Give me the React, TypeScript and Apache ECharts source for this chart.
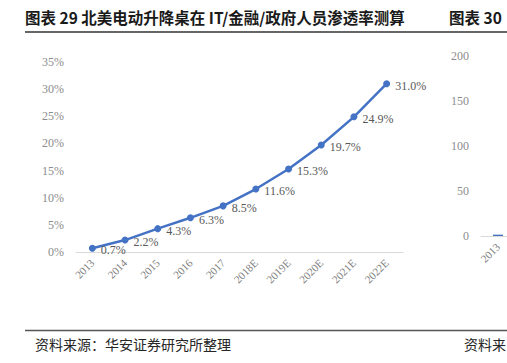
import React, { useEffect, useRef } from "react";
import * as echarts from "echarts";

const categories = ["2013", "2014", "2015", "2016", "2017", "2018E", "2019E", "2020E", "2021E", "2022E"];
const penetration = [0.7, 2.2, 4.3, 6.3, 8.5, 11.6, 15.3, 19.7, 24.9, 31.0];
const chart2Categories = ["2013"];
const chart2Values = [1.5];
const titleLeft = "图表 29 北美电动升降桌在 IT/金融/政府人员渗透率测算";
const titleRight = "图表 30";
const sourceLeft = "资料来源：华安证券研究所整理";
const sourceRight = "资料来";

const SERIF = "'Liberation Serif', 'Times New Roman', serif";
const CJK = "'Noto Sans CJK SC', sans-serif";

export default function App() {
  const ref = useRef<HTMLDivElement>(null);
  useEffect(() => {
    const chart = echarts.init(ref.current!, undefined, { renderer: "svg" });
    chart.setOption({
      animation: false,
      backgroundColor: "#ffffff",
      grid: [
        { left: 76, right: 104, top: 62, bottom: 111 },
        { left: 481, width: 34, top: 56, bottom: 127, outerBoundsMode: "none" },
      ],
      xAxis: [
        {
          type: "category",
          gridIndex: 0,
          data: categories,
          boundaryGap: true,
          axisLine: { lineStyle: { color: "#d9d9d9", width: 1 } },
          axisTick: { show: false },
          axisLabel: { rotate: 45, fontFamily: SERIF, fontSize: 11, color: "#808080", margin: 9, interval: 0 },
        },
        {
          type: "category",
          gridIndex: 1,
          data: chart2Categories,
          boundaryGap: true,
          axisLine: { lineStyle: { color: "#d9d9d9", width: 1 } },
          axisTick: { show: false },
          axisLabel: { rotate: 45, fontFamily: SERIF, fontSize: 11, color: "#808080", margin: 9, interval: 0 },
        },
      ],
      yAxis: [
        {
          type: "value",
          gridIndex: 0,
          min: 0,
          max: 35,
          interval: 5,
          splitLine: { show: false },
          axisLine: { show: false },
          axisTick: { show: false },
          axisLabel: { formatter: "{value}%", fontFamily: SERIF, fontSize: 12, color: "#8c8c8c", margin: 12 },
        },
        {
          type: "value",
          gridIndex: 1,
          min: 0,
          max: 200,
          interval: 50,
          splitLine: { show: false },
          axisLine: { show: false },
          axisTick: { show: false },
          axisLabel: { fontFamily: SERIF, fontSize: 12, color: "#8c8c8c", margin: 12 },
        },
      ],
      series: [
        {
          type: "line",
          xAxisIndex: 0,
          yAxisIndex: 0,
          data: penetration,
          symbol: "circle",
          symbolSize: 7,
          lineStyle: { color: "#4472c4", width: 2.5 },
          itemStyle: { color: "#4472c4" },
          label: {
            show: true,
            position: "right",
            distance: 5,
            offset: [0, 2],
            formatter: (p: any) => p.value.toFixed(1) + "%",
            fontFamily: SERIF,
            fontSize: 12,
            color: "#595959",
          },
        },
        {
          type: "bar",
          xAxisIndex: 1,
          yAxisIndex: 1,
          data: chart2Values,
          barWidth: 10,
          itemStyle: { color: "#4472c4" },
        },
      ],
      graphic: [
        {
          type: "text",
          left: 25,
          top: 9,
          style: { text: titleLeft, font: `bold 15.5px ${CJK}`, fill: "#1a1a1a" },
        },
        {
          type: "text",
          left: 449,
          top: 9,
          style: { text: titleRight, font: `bold 15.5px ${CJK}`, fill: "#1a1a1a" },
        },
        {
          type: "line",
          shape: { x1: 25, y1: 32, x2: 507, y2: 32 },
          style: { stroke: "#333333", lineWidth: 1.5 },
        },
        {
          type: "line",
          shape: { x1: 25, y1: 330.5, x2: 507, y2: 330.5 },
          style: { stroke: "#555555", lineWidth: 1.5 },
        },
        {
          type: "text",
          left: 35,
          top: 337,
          style: { text: sourceLeft, font: `14px ${CJK}`, fill: "#262626" },
        },
        {
          type: "text",
          left: 464,
          top: 337,
          style: { text: sourceRight, font: `14px ${CJK}`, fill: "#262626" },
        },
      ],
    });
    return () => chart.dispose();
  }, []);
  return <div ref={ref} style={{ position: "fixed", left: 0, top: 0, width: 507, height: 363 }} />;
}
